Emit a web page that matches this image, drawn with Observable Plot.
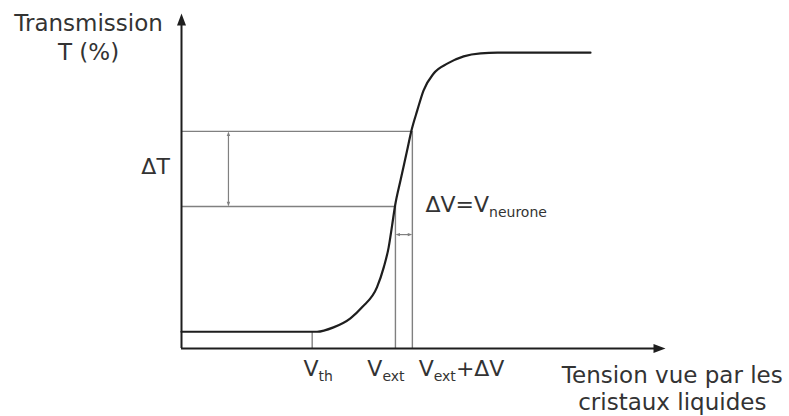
<!DOCTYPE html>
<html><head><meta charset="utf-8">
<script src="https://cdn.jsdelivr.net/npm/d3@7"></script>
<script src="https://cdn.jsdelivr.net/npm/@observablehq/plot@0.6"></script>
<style>body{margin:0;background:#fff} svg{display:block}</style>
</head><body><div id="chart"></div>
<script>
// Transmission curve (arbitrary voltage units 0..100, transmission in %)
const tension      = [0, 28, 31.4, 34.9, 37.3, 40.4, 41.8, 42.8, 43.5, 44.1, 45.3, 46.6, 47.5, 48.7, 50, 52.1, 55, 58.3, 61.8, 65.3, 84.5];
const transmission = [5, 5, 6.3, 9, 12.3, 18.3, 24.3, 30.2, 36.6, 42.4, 50.5, 59, 65, 71, 77, 82.1, 85.1, 87.2, 88.1, 88.3, 88.3];

// Reference voltages (V_th, V_ext, V_ext+ΔV) and the curve heights there
const guideX = [27, 44.2, 47.7];
const guideY = [5, 42.4, 64.8];

// Double arrows: ΔT (vertical) and ΔV (horizontal)
const deltaTX = 9.7;
const deltaVY = 34;

// Axis extents
const axisEnd = [100, 100];

// Labels
const tickText = ["V_{th}", "V_{ext}", "V_{ext}+ΔV", "ΔV=V_{neurone}", "ΔT"];
const tickX    = [25.2, 38.4, 49.0, 50.4, -8.3];
const tickY    = [-8.1, -8.1, -8.1, 40.6, 52.2];
const yTitle = "Transmission\nT (%)";
const xTitle = "Tension vue par les\ncristaux liquides";

const guides = guideX.map((x, i) => ({x, y: guideY[i]}));
const curve = tension.map((x, i) => ({x, y: transmission[i]}));
const labels = tickText.map((t, i) => ({t, x: tickX[i], y: tickY[i]}));

// Arrowhead symbol: tip at origin, pointing up
const head = {
  draw(ctx, size) {
    const r = Math.sqrt(size / Math.PI);
    const L = 2 * r, W = 0.75 * r;
    ctx.moveTo(0, 0); ctx.lineTo(-W, L); ctx.lineTo(W, L); ctx.closePath();
  }
};

const ink = "#1e1e1e", gray = "#808080", txt = "#333";
const font = "DejaVu Sans";

const chart = Plot.plot({
  width: 789, height: 416,
  marginLeft: 181, marginRight: 124, marginTop: 13, marginBottom: 68,
  style: {fontFamily: font, background: "#fff"},
  x: {domain: [0, axisEnd[0]], axis: null},
  y: {domain: [0, axisEnd[1]], axis: null},
  marks: [
    // guides
    Plot.ruleY(guides.slice(1), {y: "y", x1: 0, x2: "x", stroke: gray, strokeWidth: 1.4}),
    Plot.ruleX(guides, {x: "x", y1: 0, y2: "y", stroke: gray, strokeWidth: 1.4}),
    // ΔT double arrow
    Plot.ruleX([deltaTX], {y1: guideY[1] + 1.2, y2: guideY[2] - 1.2, stroke: gray, strokeWidth: 1.2}),
    Plot.dot([deltaTX], {x: d => d, y: guideY[2], symbol: head, r: 2.3, fill: gray, stroke: null, rotate: 0}),
    Plot.dot([deltaTX], {x: d => d, y: guideY[1], symbol: head, r: 2.3, fill: gray, stroke: null, rotate: 180}),
    // ΔV double arrow
    Plot.ruleY([deltaVY], {x1: guideX[1] + 0.6, x2: guideX[2] - 0.6, stroke: gray, strokeWidth: 1.2}),
    Plot.dot([deltaVY], {y: d => d, x: guideX[1], symbol: head, r: 2.3, fill: gray, stroke: null, rotate: -90}),
    Plot.dot([deltaVY], {y: d => d, x: guideX[2], symbol: head, r: 2.3, fill: gray, stroke: null, rotate: 90}),
    // axes
    Plot.ruleX([0], {y1: 0, y2: axisEnd[1] - 2, stroke: ink, strokeWidth: 2}),
    Plot.ruleY([0], {x1: 0, x2: axisEnd[0] - 1, stroke: ink, strokeWidth: 2}),
    Plot.dot([0], {x: 0, y: axisEnd[1], symbol: head, r: 6, fill: ink, stroke: null, rotate: 0}),
    Plot.dot([0], {x: axisEnd[0], y: 0, symbol: head, r: 6, fill: ink, stroke: null, rotate: 90}),
    // curve
    Plot.line(curve, {x: "x", y: "y", curve: "monotone-x", stroke: ink, strokeWidth: 2.2}),
    // texts
    Plot.text(labels, {x: "x", y: "y", text: "t", textAnchor: "start", lineAnchor: "bottom", fontSize: 22, fill: txt, fontFamily: font}),
    Plot.text([yTitle], {x: -19.2, y: 86, text: d => d, textAnchor: "middle", lineAnchor: "bottom", lineHeight: 1.3, fontSize: 23, fill: txt, fontFamily: font}),
    Plot.text([xTitle], {x: 101.4, y: -18.5, text: d => d, textAnchor: "middle", lineAnchor: "bottom", lineHeight: 1.2, fontSize: 23, fill: txt, fontFamily: font})
  ]
});

// Turn "_{...}" into real subscript tspans
d3.select(chart).selectAll("text").each(function () {
  const s = this.textContent;
  if (!s.includes("_{")) return;
  const parts = s.split(/(_\{[^}]*\})/).filter(p => p.length);
  this.textContent = "";
  let shifted = false;
  for (const p of parts) {
    const sub = p.startsWith("_{");
    const t = d3.select(this).append("tspan").text(sub ? p.slice(2, -1) : p);
    if (sub) { t.attr("font-size", 14).attr("dy", 5); shifted = true; }
    else if (shifted) { t.attr("dy", -5); shifted = false; }
  }
});

document.getElementById("chart").append(chart);
</script>
</body></html>
